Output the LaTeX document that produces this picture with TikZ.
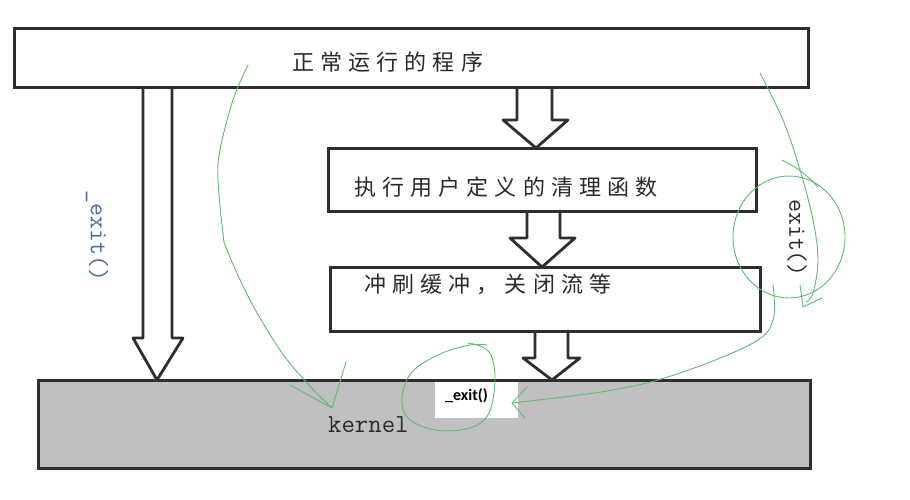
\documentclass[tikz,border=0pt]{standalone}
\usepackage{fontspec}
\newfontfamily\cjk[LetterSpace=28]{Noto Sans CJK SC}
\newfontfamily\smallsans{Carlito}
\definecolor{ink}{HTML}{2E2E2E}
\definecolor{kgray}{HTML}{C0C0C0}
\definecolor{pen}{HTML}{5DBB6E}
\definecolor{bluetxt}{HTML}{4A6C9B}
\definecolor{txtgray}{HTML}{2A2A2A}
\tikzset{
  boxshape/.style={draw=ink, line width=3pt, fill=white, inner sep=0pt, outer sep=0pt},
  kernelshape/.style={boxshape, fill=kgray},
  hollow/.style={draw=ink, line width=2.8pt, fill=white, line join=round},
  cjklabel/.style={anchor=west, inner sep=0pt, text=txtgray, font=\cjk\fontsize{22}{22}\selectfont},
  ttlabel/.style={inner sep=0pt, font=\ttfamily\fontsize{25}{25}\selectfont},
  penline/.style={draw=pen, line width=0.9pt, line cap=round, line join=round},
}
\begin{document}
\begin{tikzpicture}[x=1pt, y=-1pt]
\useasboundingbox (0,0) rectangle (910,499);
% hollow arrows (drawn first, boxes on top)
\coordinate (tA) at (157,380);
\path[hollow] (143,87) -- (143,338) -- (133,338) -- (tA) -- (183,338) -- (172,338) -- (172,87);
\path[hollow] (517,87) -- (517,120) -- (503,120) -- (536,148) -- (568,120) -- (552,120) -- (552,87);
\path[hollow] (527,211) -- (527,238) -- (510,238) -- (542,267) -- (575,238) -- (560,238) -- (560,211);
\path[hollow] (535,331) -- (535,358) -- (523,358) -- (552,380) -- (580,358) -- (568,358) -- (568,331);
% boxes
\node[boxshape, minimum width=794pt, minimum height=59pt] (prog) at (411,57.5) {};
\node[boxshape, minimum width=428pt, minimum height=63pt] (clean) at (542,179.5) {};
\node[boxshape, minimum width=430pt, minimum height=64pt] (flush) at (545,299) {};
\node[kernelshape, minimum width=772pt, minimum height=88pt] (kern) at (424,424) {};
\node[fill=white, inner sep=0pt, minimum width=83pt, minimum height=36pt] (exitbox) at (476,400) {};
% texts
\node[cjklabel] (t1) at (292,62) {正常运行的程序};
\node[cjklabel] (t2) at (354,187) {执行用户定义的清理函数};
\node[cjklabel] (t3) at (364,284) {冲刷缓冲，关闭流等};
\node[ttlabel, text=bluetxt, rotate=-90] (lx) at (97,236) {\_exit()};
\node[ttlabel, text=txtgray, rotate=-90] (rx) at (797,238) {exit()};
\node[ttlabel, anchor=base west, font=\ttfamily\fontsize{26}{26}\selectfont, text=txtgray] (kt) at (328,432) {kernel};
\node[anchor=base west, inner sep=0pt, font=\smallsans\bfseries\fontsize{16}{16}\selectfont] (sx) at (445,400) {\_exit()};
% green pen annotations
\draw[penline] plot[smooth, tension=0.6] coordinates {(248,65) (233,100) (220,150) (218,180) (223,233) (227,250) (250,300) (280,350) (307,383) (332,408)};
\draw[penline] (290,385) -- (332,408) -- (346,362);
\draw[penline] plot[smooth, tension=0.6] coordinates {(487,345) (470,345) (440,354) (412,372) (402,397) (408,418) (435,430) (470,428) (489,413) (495,380) (491,355) (480,346) (468,343)};
\draw[penline] plot[smooth, tension=0.6] coordinates {(760,73) (783,120) (800,170) (813,220) (818,260) (813,293) (806,302)};
\draw[penline] (800,285) -- (803,307) -- (822,298);
\draw[penline] (782,160) to[bend left=10] (818,187);
\draw[penline] (789,237) ellipse[x radius=56, y radius=61];
\draw[penline] plot[smooth, tension=0.6] coordinates {(773,285) (773,320) (753,343) (680,373) (613,390) (512,403)};
\draw[penline] (527,387) -- (512,403) -- (525,418);
\end{tikzpicture}
\end{document}
